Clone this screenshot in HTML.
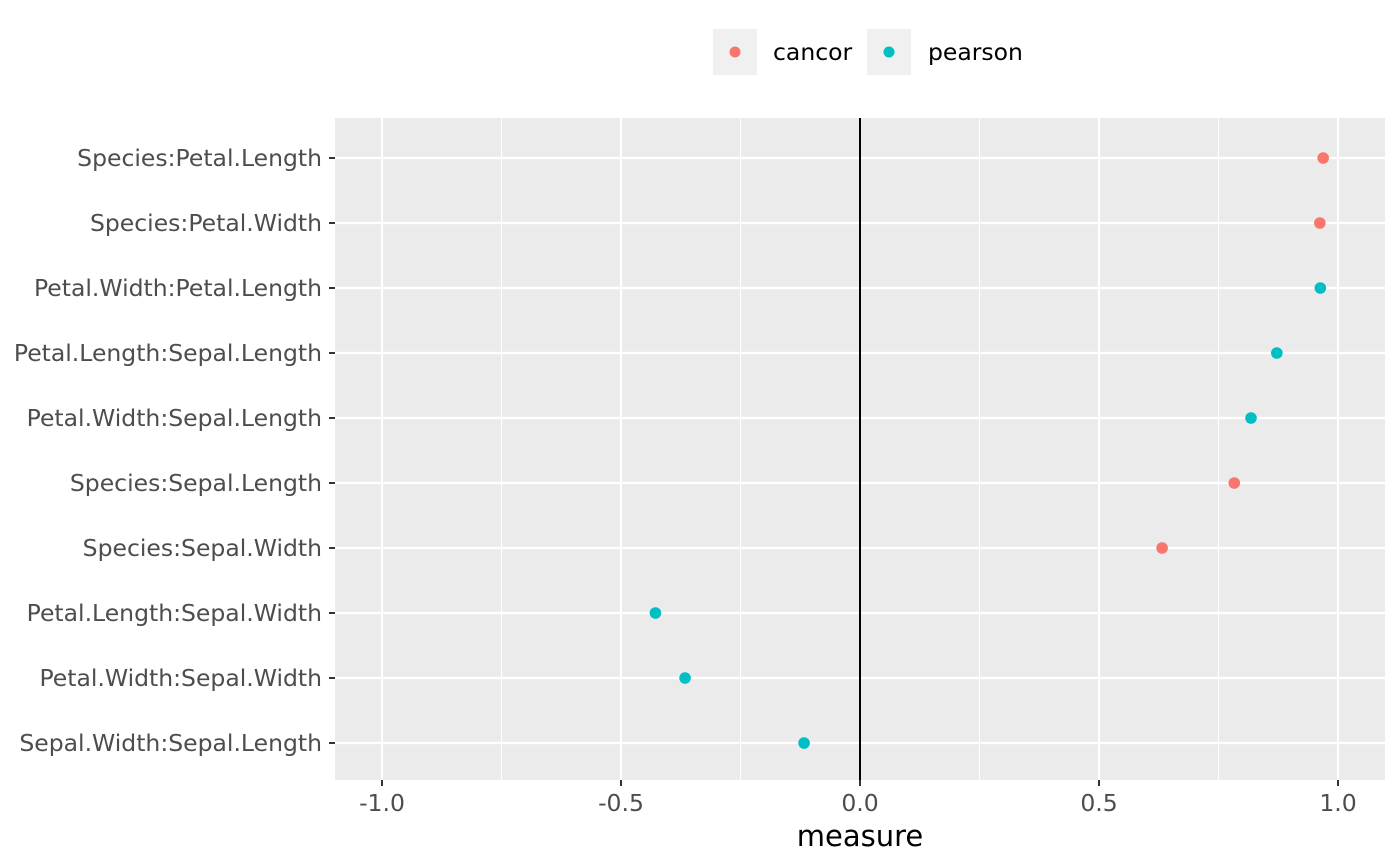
<!DOCTYPE html>
<html><head><meta charset="utf-8"><style>
body{margin:0;background:#fff;}
svg{display:block;font-family:"DejaVu Sans","Liberation Sans",sans-serif;}
</style></head><body>
<svg id="chart" width="1400" height="866" xmlns="http://www.w3.org/2000/svg">
<rect x="335" y="118" width="1050" height="662" fill="#ebebeb"/>
<g id="grid"></g>
<g id="ylab"></g>
<g id="xlab"></g>
<g id="pts"></g>
<text x="860" y="846" text-anchor="middle" font-size="29" fill="#000">measure</text>
<g>
<rect x="713" y="29" width="44" height="46" fill="#f0f0f0"/>
<circle cx="735" cy="52" r="5.5" fill="#f8766d"/>
<text x="773" y="60" font-size="23.5" fill="#000">cancor</text>
<rect x="867" y="29" width="44" height="46" fill="#f0f0f0"/>
<circle cx="889" cy="52" r="5.5" fill="#00bfc4"/>
<text x="928" y="60" font-size="23.5" fill="#000">pearson</text>
</g>
</svg>
<script>
const categories=["Species:Petal.Length","Species:Petal.Width","Petal.Width:Petal.Length","Petal.Length:Sepal.Length","Petal.Width:Sepal.Length","Species:Sepal.Length","Species:Sepal.Width","Petal.Length:Sepal.Width","Petal.Width:Sepal.Width","Sepal.Width:Sepal.Length"];
const values=[0.969,0.962,0.963,0.872,0.818,0.783,0.632,-0.428,-0.366,-0.117];
const methods=["cancor","cancor","pearson","pearson","pearson","cancor","cancor","pearson","pearson","pearson"];
const xTicks=[-1.0,-0.5,0.0,0.5,1.0];
const xTickLabels=["-1.0","-0.5","0.0","0.5","1.0"];
const NS="http://www.w3.org/2000/svg";
const x=v=>860+v*478;
const y=i=>158+i*65;
const colors={cancor:"#f8766d",pearson:"#00bfc4"};
function mk(tag,attrs,parent){const e=document.createElementNS(NS,tag);for(const k in attrs)e.setAttribute(k,attrs[k]);document.getElementById(parent).appendChild(e);return e;}
for(let i=0;i<xTicks.length-1;i++){const m=(xTicks[i]+xTicks[i+1])/2;
const l=mk("line",{x1:x(m),x2:x(m),y1:118,y2:780,stroke:"#fff","stroke-width":1},"grid");

}
xTicks.forEach((t,i)=>{
const l=mk("line",{x1:x(t),x2:x(t),y1:118,y2:780,stroke:"#fff","stroke-width":2.2},"grid");


const tk=mk("line",{x1:x(t),x2:x(t),y1:780,y2:786,stroke:"#333","stroke-width":2},"xlab");


const tx=mk("text",{x:x(t),y:811,"text-anchor":"middle","font-size":23.5,fill:"#4d4d4d"},"xlab");
tx.textContent=xTickLabels[i];


});
categories.forEach((c,i)=>{
const l=mk("line",{x1:335,x2:1385,y1:y(i),y2:y(i),stroke:"#fff","stroke-width":2.2},"grid");


const tk=mk("line",{x1:329,x2:335,y1:y(i),y2:y(i),stroke:"#333","stroke-width":2},"ylab");


const tx=mk("text",{x:322,y:y(i)+8,"text-anchor":"end","font-size":23.5,fill:"#4d4d4d"},"ylab");
tx.textContent=c;


const p=mk("circle",{cx:x(values[i]),cy:y(i),r:5.8,fill:colors[methods[i]]},"pts");


});
const z=mk("line",{x1:x(0),x2:x(0),y1:118,y2:780,stroke:"#000","stroke-width":2},"pts");


</script>
</body></html>
